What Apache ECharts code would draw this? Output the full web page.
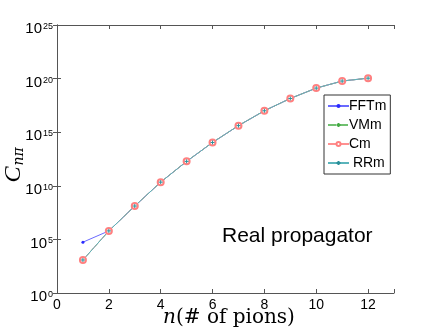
<!DOCTYPE html>
<html>
<head>
<meta charset="utf-8">
<script src="https://cdn.jsdelivr.net/npm/echarts@6/dist/echarts.min.js"></script>
<style>
  html, body { margin: 0; padding: 0; background: #fff; }
  #chart { width: 436px; height: 330px; }
</style>
</head>
<body>
<div id="chart"></div>
<script>
// number of pions
const nPions = [1, 2, 3, 4, 5, 6, 7, 8, 9, 10, 11, 12];
// C_{n pi} per method
const fftm = [5.5e4, 6.2e5, 1.3e8, 2.2e10, 1.9e12, 1.1e14, 4.1e15, 1.0e17, 1.4e18, 1.3e19, 5.9e19, 1.1e20];
const vmm  = [1.2e3, 6.2e5, 1.3e8, 2.2e10, 1.9e12, 1.1e14, 4.1e15, 1.0e17, 1.4e18, 1.3e19, 5.9e19, 1.1e20];
const cm   = [1.2e3, 6.2e5, 1.3e8, 2.2e10, 1.9e12, 1.1e14, 4.1e15, 1.0e17, 1.4e18, 1.3e19, 5.9e19, 1.1e20];
const rrm  = [1.2e3, 6.2e5, 1.3e8, 2.2e10, 1.9e12, 1.1e14, 4.1e15, 1.0e17, 1.4e18, 1.3e19, 5.9e19, 1.1e20];
const xTicks = [0, 2, 4, 6, 8, 10, 12];

const plus = 'path://M0,5L10,5M5,0L5,10';
const pairs = arr => nPions.map((n, i) => [n, arr[i]]);

const myChart = echarts.init(document.getElementById('chart'), null, { renderer: 'canvas' });

const axisLine = { show: true, lineStyle: { color: '#555', width: 1 } };
const tickIn = { show: true, inside: true, length: 4, lineStyle: { color: '#555' } };

myChart.setOption({
  animation: false,
  backgroundColor: '#fff',
  grid: { left: 57, right: 42, top: 25, bottom: 37 },
  legend: {
    orient: 'vertical',
    left: 324,
    top: 95,
    width: 66,
    padding: [3, 4, 3, 3],
    itemGap: 3,
    itemWidth: 21,
    itemHeight: 5,
    backgroundColor: '#fff',
    borderColor: '#333',
    borderWidth: 1,
    borderRadius: 0,
    textStyle: { fontFamily: 'Liberation Sans', fontSize: 14, color: '#000', padding: [0, 0, 0, -5], lineHeight: 16 },
    formatter: name => (name === 'RRm' ? ' ' + name : name),
    data: ['FFTm', 'VMm', 'Cm', 'RRm']
  },
  xAxis: [
    {
      type: 'value', min: 0, max: 13, interval: 2,
      axisLine: axisLine, axisTick: tickIn, splitLine: { show: false },
      axisLabel: {
        color: '#000', fontFamily: 'Liberation Sans', fontSize: 14, margin: 5,
        formatter: v => (xTicks.indexOf(v) >= 0 ? String(v) : '')
      }
    },
    {
      type: 'value', position: 'top', min: 0, max: 13, interval: 2,
      axisLine: axisLine, axisTick: tickIn, axisLabel: { show: false }, splitLine: { show: false }
    }
  ],
  yAxis: [
    {
      type: 'log', logBase: 10, min: 1, max: 1e25, interval: 5,
      axisLine: axisLine, axisTick: tickIn, splitLine: { show: false }, minorTick: { show: false },
      axisLabel: {
        margin: 4,
        formatter: v => '{b|10}{s|' + Math.round(Math.log10(v)) + '}',
        rich: {
          b: { fontFamily: 'Liberation Sans', fontSize: 15, color: '#000', lineHeight: 16, padding: [8, 0, 0, 0] },
          s: { fontFamily: 'Liberation Sans', fontSize: 9, color: '#000', verticalAlign: 'top', lineHeight: 10, padding: [5, 0, 0, 1] }
        }
      }
    },
    {
      type: 'log', logBase: 10, min: 1, max: 1e25, interval: 5, position: 'right',
      axisLine: axisLine, axisTick: tickIn, axisLabel: { show: false }, splitLine: { show: false }
    }
  ],
  graphic: [
    {
      type: 'text', left: 222, top: 226,
      style: { text: 'Real propagator', font: '21px "Liberation Sans"', fill: '#000' }
    },
    {
      type: 'text', x: 229, y: 318,
      style: {
        text: '{i|n}{r|(# of pions)}', align: 'center', verticalAlign: 'middle',
        rich: {
          i: { font: 'italic 20px "DejaVu Serif"', fill: '#000' },
          r: { font: '20px "DejaVu Serif"', fill: '#000' }
        }
      }
    },
    {
      type: 'text', x: 14, y: 165, rotation: Math.PI / 2,
      style: {
        text: '{c|C}{s|nπ}', align: 'center', verticalAlign: 'middle',
        rich: {
          c: { font: 'italic 24px "Liberation Serif"', fill: '#000', lineHeight: 24 },
          s: { font: 'italic 14px "DejaVu Serif"', fill: '#000', verticalAlign: 'bottom', lineHeight: 14, padding: [4, 0, 0, 1] }
        }
      }
    }
  ],
  series: [
    {
      name: 'FFTm', type: 'line', data: pairs(fftm),
      symbol: 'circle', symbolSize: 3,
      itemStyle: { color: '#2a2aff' },
      lineStyle: { color: '#6a6aff', width: 1 }
    },
    {
      name: 'VMm', type: 'line', data: pairs(vmm),
      symbol: plus, symbolSize: 4,
      itemStyle: { color: 'rgba(0,0,0,0)', borderColor: '#44aa44', borderWidth: 1 },
      lineStyle: { color: '#70c070', width: 1, type: 'dashed' }
    },
    {
      name: 'Cm', type: 'line', data: pairs(cm),
      symbol: 'emptyCircle', symbolSize: 6,
      itemStyle: { color: '#ff8080', borderColor: '#ff8080', borderWidth: 1 },
      lineStyle: { color: '#ff9090', width: 1 }
    },
    {
      name: 'RRm', type: 'line', data: pairs(rrm),
      symbol: plus, symbolSize: 4,
      itemStyle: { color: 'rgba(0,0,0,0)', borderColor: '#2a8f99', borderWidth: 1 },
      lineStyle: { color: '#5ab4bb', width: 1 }
    }
  ]
});
window.addEventListener('resize', function () {
  myChart.resize();
});
</script>
</body>
</html>
